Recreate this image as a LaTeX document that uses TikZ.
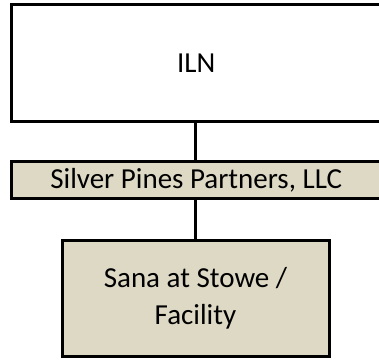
\documentclass[tikz,border=0pt]{standalone}
\usepackage{fontspec}
\setmainfont{Carlito}
\usepackage{tikz}
\usetikzlibrary{positioning}
\definecolor{tanfill}{HTML}{DDD9C4}

\begin{document}
\begin{tikzpicture}[x=1pt, y=-1pt,
  box/.style = {draw, line width = 3pt, inner sep = 0pt, anchor = center,
                font = \fontsize{29}{37}\selectfont},
  tanbox/.style = {box, fill = tanfill},
  link/.style = {line width = 3pt}]
\clip (0,0) rectangle (379,361);
%\draw[help lines] (0,0) grid[step=20] (379,361);
\node[box, minimum width = 369.5pt, minimum height = 116.5pt] (iln) at (196.25,63.25) {ILN};
\node[tanbox, minimum width = 369.5pt, minimum height = 37pt] (spp) at (196.25,180) {Silver Pines Partners, LLC};
\node[tanbox, minimum width = 267pt, minimum height = 116pt, align = center] (sana) at (195.5,298) {Sana at Stowe /\\Facility};
\draw[link] (iln.south -| sana.north) -- (spp.north -| sana.north);
\draw[link] (spp.south -| sana.north) -- (sana.north);
\end{tikzpicture}
\end{document}
